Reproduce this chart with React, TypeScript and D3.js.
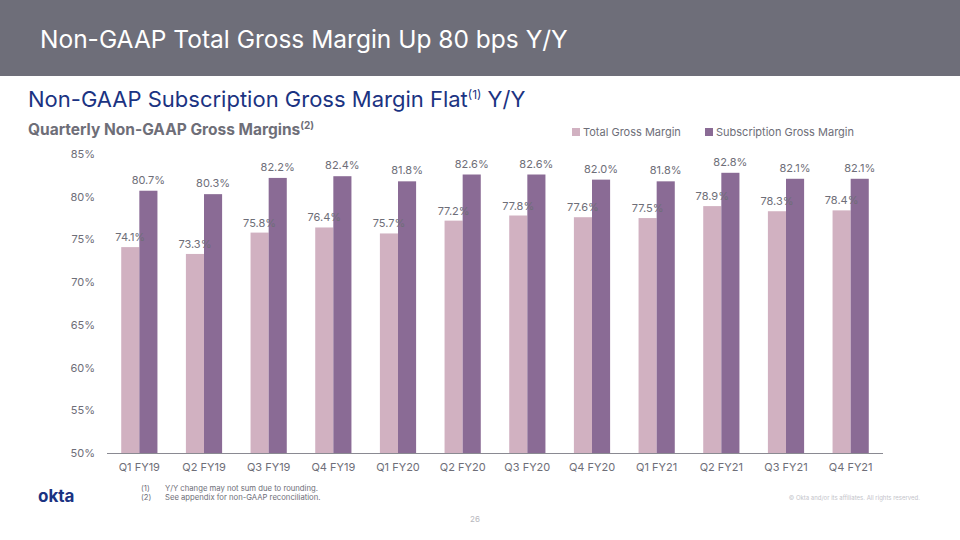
import React from "react";
import * as d3 from "d3";

const categories = ["Q1 FY19","Q2 FY19","Q3 FY19","Q4 FY19","Q1 FY20","Q2 FY20","Q3 FY20","Q4 FY20","Q1 FY21","Q2 FY21","Q3 FY21","Q4 FY21"];
const totalGM = [74.1,73.3,75.8,76.4,75.7,77.2,77.8,77.6,77.5,78.9,78.3,78.4];
const subGM = [80.7,80.3,82.2,82.4,81.8,82.6,82.6,82.0,81.8,82.8,82.1,82.1];
const yTicks = [50,55,60,65,70,75,80,85];
const seriesNames = ["Total Gross Margin","Subscription Gross Margin"];

const W = 960, H = 540;
const FONT = "Inter, 'Noto Sans', sans-serif";
const C_TOTAL = "#d1b1c1";
const C_SUB = "#8a6b95";
const TXT = "#6e6e78";

export default function App() {
  const x = d3.scaleBand<string>().domain(categories).range([107, 883]).paddingInner(0.44).paddingOuter(0.22);
  const y = d3.scaleLinear().domain([50, 85]).range([453, 154]);
  const inner = d3.scaleBand<string>().domain(["t","s"]).range([0, x.bandwidth()]);
  const fmt = (v: number) => v.toFixed(1) + "%";
  return (
    <svg width={W} height={H} style={{ position: "absolute", left: 0, top: 0, background: "#fff" }} fontFamily={FONT}>
      <rect x={0} y={0} width={W} height={76} fill="#6e6e79" />
      <text x={40} y={48} fill="#fff" fontSize={24.5}>Non-GAAP Total Gross Margin Up 80 bps Y/Y</text>
      <text x={28} y={107} fill="#1b3382" fontSize={22}>
        Non-GAAP Subscription Gross Margin Flat<tspan fontSize={12} dy={-8}>(1)</tspan><tspan dy={8}> Y/Y</tspan>
      </text>
      <text x={28} y={135} fill={TXT} fontSize={15.5} fontWeight={700}>
        Quarterly Non-GAAP Gross Margins<tspan fontSize={10} dy={-6}>(2)</tspan>
      </text>
      {/* legend */}
      {seriesNames.map((n, i) => (
        <g key={n} transform={`translate(${i === 0 ? 572 : 705},128)`}>
          <rect x={0} y={0} width={8} height={8} fill={i === 0 ? C_TOTAL : C_SUB} />
          <text x={11} y={8} fill={TXT} fontSize={11}>{n}</text>
        </g>
      ))}
      {/* y ticks */}
      {yTicks.map(t => (
        <text key={t} x={95} y={y(t) + 4} textAnchor="end" fill={TXT} fontSize={11}>{t}%</text>
      ))}
      {/* bars */}
      {categories.map((c, i) => {
        const x0 = x(c)!;
        const xt = x0 + inner("t")!;
        const xs = x0 + inner("s")!;
        const bw = inner.bandwidth();
        return (
          <g key={c}>
            <rect x={xt} y={y(totalGM[i])} width={bw} height={y(50) - y(totalGM[i])} fill={C_TOTAL} />
            <rect x={xs} y={y(subGM[i])} width={bw} height={y(50) - y(subGM[i])} fill={C_SUB} />
            <text x={xt + bw / 2} y={y(totalGM[i]) - 6} textAnchor="middle" fill={TXT} fontSize={11}>{fmt(totalGM[i])}</text>
            <text x={xs + bw / 2} y={y(subGM[i]) - 7} textAnchor="middle" fill={TXT} fontSize={11}>{fmt(subGM[i])}</text>
            <text x={x0 + x.bandwidth() / 2} y={471} textAnchor="middle" fill={TXT} fontSize={11}>{c}</text>
          </g>
        );
      })}
      <line x1={107} x2={883} y1={453.5} y2={453.5} stroke="#8a8a92" strokeWidth={1} />
      {/* footnotes */}
      <text x={141} y={491} fill={TXT} fontSize={7.7}>(1)</text>
      <text x={165} y={491} fill={TXT} fontSize={7.7}>Y/Y change may not sum due to rounding.</text>
      <text x={141} y={500} fill={TXT} fontSize={7.7}>(2)</text>
      <text x={165} y={500} fill={TXT} fontSize={7.7}>See appendix for non-GAAP reconciliation.</text>
      <text x={38} y={502} fill="#1b3382" fontSize={17} fontWeight={700}>okta</text>
      <text x={920} y={500} textAnchor="end" fill="#c4c4ca" fontSize={6}>© Okta and/or its affiliates. All rights reserved.</text>
      <text x={475} y={522} textAnchor="middle" fill="#b8b8be" fontSize={8}>26</text>
    </svg>
  );
}
